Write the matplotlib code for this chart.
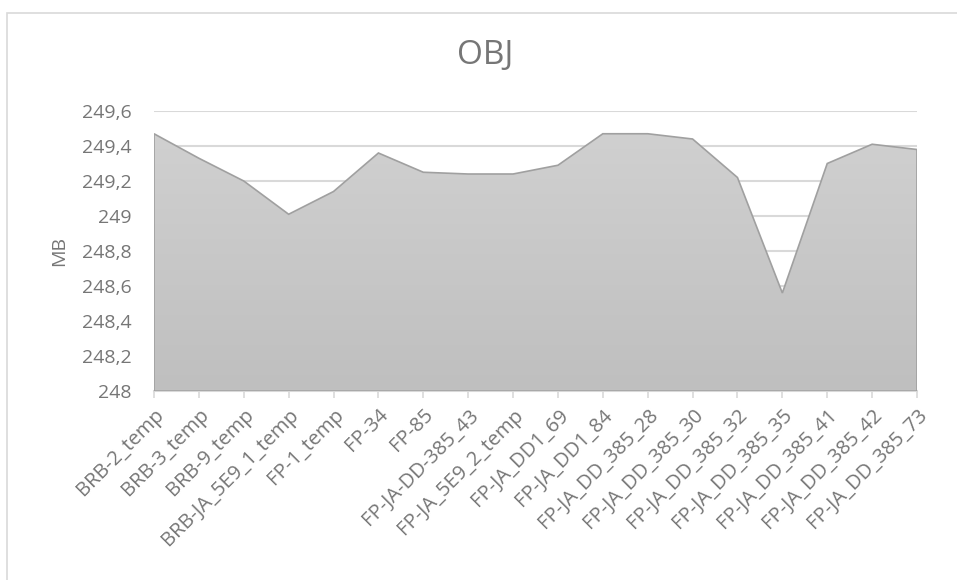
import matplotlib
matplotlib.use("Agg")
import matplotlib.pyplot as plt
import numpy as np
from matplotlib.patches import Polygon, Rectangle

# category labels and values
labels = [
    "BRB-2_temp", "BRB-3_temp", "BRB-9_temp", "BRB-JA_5E9_1_temp", "FP-1_temp",
    "FP-34", "FP-85", "FP-JA-DD-385_43", "FP-JA_5E9_2_temp", "FP-JA_DD1_69",
    "FP-JA_DD1_84", "FP-JA_DD_385_28", "FP-JA_DD_385_30", "FP-JA_DD_385_32",
    "FP-JA_DD_385_35", "FP-JA_DD_385_41", "FP-JA_DD_385_42", "FP-JA_DD_385_73",
]
values = [
    249.47, 249.33, 249.20, 249.01, 249.14,
    249.36, 249.25, 249.24, 249.24, 249.29,
    249.47, 249.47, 249.44, 249.22,
    248.56, 249.30, 249.41, 249.38,
]
yticks = [248.0, 248.2, 248.4, 248.6, 248.8, 249.0, 249.2, 249.4, 249.6]

text_col = "#767676"
grid_col = "#d9d9d9"
plt.rcParams["font.family"] = ["Open Sans", "DejaVu Sans"]

W, H = 957, 580
fig = plt.figure(figsize=(W / 100, H / 100), dpi=100)
# light chart-area border like the Excel export
fig.patches.append(Rectangle((6.5 / W, -0.01), 1.02, 1 - 12.5 / H + 0.01,
                             transform=fig.transFigure, fill=False,
                             edgecolor="#d9d9d9", linewidth=1.2))
left, right, top, bottom = 154, 917, 111, 391
ax = fig.add_axes([left / W, 1 - bottom / H, (right - left) / W, (bottom - top) / H])

x = np.arange(len(values))
ymin, ymax = yticks[0], yticks[-1]

# gradient fill clipped to the area polygon
grad = np.linspace(0, 1, 256).reshape(-1, 1)
cmap = matplotlib.colors.LinearSegmentedColormap.from_list("g", ["#bfbfbf", "#d0d0d0"])
img = ax.imshow(grad, cmap=cmap, aspect="auto", origin="lower",
                extent=[x[0], x[-1], ymin, max(values)], zorder=2)
verts = [(x[0], ymin)] + list(zip(x, values)) + [(x[-1], ymin)]
poly = Polygon(verts, closed=True, facecolor="none", edgecolor="#a0a0a0",
               linewidth=1.2, zorder=3)
ax.add_patch(poly)
img.set_clip_path(poly)

ax.set_xlim(x[0], x[-1])
ax.set_ylim(ymin, ymax)
ax.set_yticks(yticks)
ax.set_yticklabels([f"{v:g}".replace(".", ",") for v in yticks])
ax.set_xticks(x)
ax.set_xticklabels(labels, rotation=45, ha="right", rotation_mode="anchor")

ax.yaxis.grid(True, color=grid_col, linewidth=1.5, zorder=0)
ax.set_axisbelow(True)
for side in ["top", "right", "left"]:
    ax.spines[side].set_visible(False)
ax.spines["bottom"].set_color(grid_col)
ax.spines["bottom"].set_linewidth(1.5)
ax.tick_params(axis="y", length=0, labelsize=14, labelcolor=text_col, pad=16)
ax.tick_params(axis="x", length=5, width=1.2, color=grid_col, labelsize=14.5,
               labelcolor=text_col, pad=5)

ax.set_ylabel("MB", fontsize=14, color=text_col, labelpad=10)
fig.text(485 / W, 1 - 55 / H, "OBJ", fontsize=24,
         color=text_col, ha="center", va="center")

fig.savefig("out.png", dpi=100)
